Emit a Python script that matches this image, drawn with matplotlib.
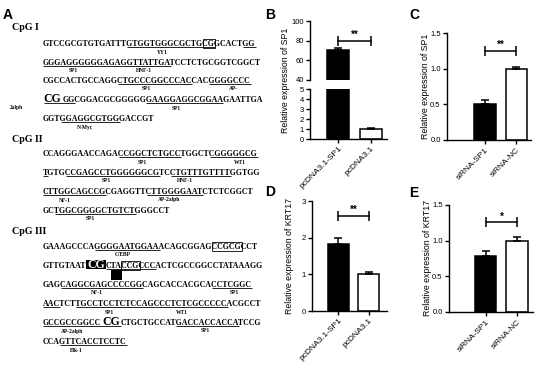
import re
import matplotlib
matplotlib.use("Agg")
import matplotlib.pyplot as plt
from matplotlib.font_manager import FontProperties
from matplotlib.patches import Rectangle

# ------------------------------------------------------------------ data
groups_over = ["pcDNA3.1-SP1", "pcDNA3.1"]
groups_si = ["siRNA-SP1", "siRNA-NC"]

sp1_over = [70.5, 1.0]
sp1_over_err = [2.0, 0.08]
sp1_si = [0.51, 1.0]
sp1_si_err = [0.05, 0.02]
krt17_over = [1.82, 1.0]
krt17_over_err = [0.18, 0.07]
krt17_si = [0.79, 1.0]
krt17_si_err = [0.07, 0.05]

sig_labels = ["**", "**", "**", "*"]
sig_heights = [80, 1.25, 2.6, 1.26]

ylabels = ["Relative expression of SP1", "Relative expression of SP1",
           "Relative expression of KRT17", "Relative expression of KRT17"]

# sequences: {XX} = enlarged CpG, [XX] = enlarged CpG on black
cpg_titles = ["CpG I", "CpG II", "CpG III"]

cpg1_seq = ["GTCCGCGTGTGATTTGTGGTGGGCGCTGCGGCACTGG",
            "GGGAGGGGGGAGAGGTTATTGATCCTCTGCGGTCGGCT",
            "CGCCACTGCCAGGCTGCCCGGCCCACCACGGGGCCC",
            "{CG}GGCGGACGCGGGGGGAAGGAGGCGGAAGAATTGA",
            "GGTGGAGGCGTGGGACCGT"]
cpg1_ul = [[(15, 30), (35, 37)], [(0, 13), (13, 22)], [(13, 26), (29, 36)],
           [(0, 4), (16, 29)], [(3, 13)]]
cpg1_box = [[(28, 30)], [], [], [], []]
cpg1_lab = [[("YY1", 21)], [("SP1", 5), ("HNF-1", 17)], [("SP1", 18), ("AP-", 33)],
            [("2alph", -4.5), ("SP1", 21)], [("N-Myc", 7)]]

cpg2_seq = ["CCAGGGAACCAGACCGGCTCTGCCTGGCTCGGGGGCG",
            "TGTGCCGAGCCTGGGGGGCGTCCTGTTTGTTTTGGTGG",
            "CTTGGCAGCCGCGAGGTTCTTGGGGAATCTCTCGGCT",
            "GCTGGCGGGGCTGTCTGGGCCT"]
cpg2_ul = [[(13, 24), (29, 37)], [(0, 1), (4, 20), (22, 33)], [(0, 11), (18, 28)], [(2, 16)]]
cpg2_box = [[], [], [], []]
cpg2_lab = [[("SP1", 17), ("WT1", 34)], [("SP1", 11), ("HNF-1", 24.5)],
            [("NF-1", 4), ("AP-2alph", 22)], [("SP1", 8)]]

cpg3_seq = ["GAAAGCCCAGGGGAATGGAAACAGCGGAGCCGCGCCT",
            "GTTGTAAT[CG]CTACCGCCCACTCGCCGGCCTATAAAGG",
            "GAGCAGGCGAGCCCCGGCAGCACCACGCACCTCGGC",
            "AACTCTTGCCTCCTCTCCAGCCCTCTCGCCCCCACGCCT",
            "GCCGCCGGCC{CG}CTGCTGCCATGACCACCACCATCCG",
            "CCAGTTCACCTCCTC"]
cpg3_ul = [[(9, 20)], [(10, 19)], [(3, 17), (29, 36)], [(0, 3), (6, 20), (20, 33)],
           [(0, 12), (22, 33)], [(3, 15)]]
cpg3_box = [[(29, 34)], [(13, 16)], [], [], [], []]
cpg3_lab = [[("C/EBP", 13.6)], [], [("NF-1", 9), ("SP1", 33)], [("SP1", 12), ("WT1", 25)],
            [("AP-2alph", 5), ("SP1", 27)], [("Elk-1", 6)]]

# ------------------------------------------------------------------ figure
W, H = 550, 366
fig = plt.figure(figsize=(5.5, 3.66), dpi=100)
SANS = "Liberation Sans"
SERIF = "Liberation Serif"

ax0 = fig.add_axes([0, 0, 1, 1])
ax0.set_xlim(0, W)
ax0.set_ylim(H, 0)
ax0.axis("off")

renderer = fig.canvas.get_renderer()
fp_seq = FontProperties(family=SERIF, weight="bold", size=5.7)
fp_big = FontProperties(family=SERIF, weight="bold", size=8.5)
fp_lab = FontProperties(family=SERIF, weight="bold", size=4.0)
fp_head = FontProperties(family=SERIF, weight="bold", size=7.2)


def tw(s, fp):
    if not s:
        return 0.0
    w, h, d = renderer.get_text_width_height_descent(s, fp, ismath=False)
    return w


def parse(line):
    segs = []
    for m in re.finditer(r"\{(\w+)\}|\[(\w+)\]|([A-Z]+)", line):
        if m.group(1):
            segs.append((m.group(1), "big"))
        elif m.group(2):
            segs.append((m.group(2), "inv"))
        else:
            segs.append((m.group(3), "n"))
    return segs


def draw_line(x0, yb, line):
    xs = []
    x = x0
    for s, kind in parse(line):
        fp = fp_seq if kind == "n" else fp_big
        gap = 0.8 if kind != "n" else 0.0
        x += gap
        color = "black"
        if kind == "inv":
            wseg = tw(s, fp)
            ax0.add_patch(Rectangle((x - 1, yb - 8), wseg + 2, 9.5, color="black", lw=0))
            color = "white"
        ax0.text(x, yb, s, fontproperties=fp, color=color, va="baseline", ha="left")
        for i in range(len(s)):
            xs.append(x + tw(s[:i], fp))
        x += tw(s, fp) + gap
    xs.append(x)
    return xs


def xpos(xs, idx):
    n = len(xs) - 1
    pitch = (xs[-1] - xs[0]) / n
    if idx < 0:
        return xs[0] + idx * pitch
    if idx >= n:
        return xs[-1] + (idx - n) * pitch
    i = int(idx)
    return xs[i] + (idx - i) * (xs[i + 1] - xs[i])


def draw_block(title, title_y, seqs, uls, boxes, labs, y_lines, x0=43):
    ax0.text(12, title_y, title, fontproperties=fp_head, va="center", ha="left")
    all_xs = []
    for seq, ul, bx, lb, yc in zip(seqs, uls, boxes, labs, y_lines):
        yb = yc + 2.6
        xs = draw_line(x0, yb, seq)
        all_xs.append(xs)
        for a, b in ul:
            ax0.plot([xs[a], xs[b]], [yb + 1.6, yb + 1.6], color="black", lw=0.6,
                     solid_capstyle="butt")
        for a, b in bx:
            ax0.add_patch(Rectangle((xs[a] - 0.6, yb - 6.6), xs[b] - xs[a] + 1.2, 8.6,
                                    fill=False, lw=0.6, edgecolor="black"))
        for t, idx in lb:
            ax0.text(xpos(xs, idx), yc + 9, t, fontproperties=fp_lab, ha="center",
                     va="center")
    return all_xs


draw_block(cpg_titles[0], 28, cpg1_seq, cpg1_ul, cpg1_box, cpg1_lab,
           [43, 62, 80, 99, 118])
draw_block(cpg_titles[1], 139, cpg2_seq, cpg2_ul, cpg2_box, cpg2_lab,
           [153, 172, 191, 210])
xs3 = draw_block(cpg_titles[2], 232, cpg3_seq, cpg3_ul, cpg3_box, cpg3_lab,
                 [246, 265, 284, 303, 322, 341])
# black marker under the C/EBP site
xl = xs3[1]
ax0.add_patch(Rectangle((xl[11], 265 + 5), xl[13] - xl[11], 10, color="black", lw=0))

# panel letters
for letter, (px, py) in zip("ABCDE", [(8, 15), (270, 15), (414, 15), (270, 192), (414, 193)]):
    fig.text(px / W, 1 - py / H, letter, fontsize=10, fontweight="bold", family=SANS,
             ha="center", va="center")


# ------------------------------------------------------------------ bar panels
def add_ax(x0, y0, x1, y1):
    return fig.add_axes([x0 / W, 1 - y1 / H, (x1 - x0) / W, (y1 - y0) / H])


def style(ax, show_bottom=True):
    for s in ["top", "right"]:
        ax.spines[s].set_visible(False)
    ax.spines["left"].set_linewidth(1.0)
    ax.spines["bottom"].set_linewidth(1.0)
    if not show_bottom:
        ax.spines["bottom"].set_visible(False)
    ax.tick_params(axis="y", direction="out", length=3, width=1.0, labelsize=5.5, pad=1.5)
    ax.tick_params(axis="x", direction="out", length=3, width=1.0, labelsize=6, pad=1.5)
    for lab in ax.get_yticklabels():
        lab.set_family(SANS)
    ax.patch.set_alpha(0)


def bars(ax, vals, errs):
    ax.bar([0, 1], vals, width=0.68, color=["black", "white"], edgecolor="black",
           linewidth=1.1, zorder=2)
    ax.errorbar([0, 1], vals, yerr=[[0, 0], errs], fmt="none", ecolor="black",
                elinewidth=1.1, capsize=3, capthick=1.1, zorder=3)


def xlabels(ax, labels):
    ax.set_xticks([0, 1])
    ax.set_xticklabels(labels, rotation=45, ha="right", rotation_mode="anchor",
                       family=SANS, fontsize=6)


def sig(ax, y, text):
    ax.plot([0, 1], [y, y], color="black", lw=1.1, marker="|", ms=7, mew=1.1,
            clip_on=False, zorder=4)
    ax.annotate(text, xy=(0.5, y), xytext=(0, 0.5), textcoords="offset points",
                ha="center", va="bottom", fontsize=7, fontweight="bold", family=SANS)


def ylab(px, py, text):
    fig.text(px / W, 1 - py / H, text, rotation=90, fontsize=6.3, family=SANS,
             ha="center", va="center")


# B: broken axis
axBu = add_ax(310, 21, 387, 80)
axBl = add_ax(310, 89, 387, 139)
for a in (axBu, axBl):
    bars(a, sp1_over, sp1_over_err)
    a.set_xlim(-0.88, 1.5)
axBu.set_ylim(40, 100)
axBu.set_yticks([40, 60, 80, 100])
axBu.set_xticks([])
style(axBu, show_bottom=False)
axBl.set_ylim(0, 5)
axBl.set_yticks([0, 1, 2, 3, 4, 5])
xlabels(axBl, groups_over)
style(axBl)
sig(axBu, sig_heights[0], sig_labels[0])
ylab(286, 80, ylabels[0])

# C
axC = add_ax(447, 33, 531, 140)
bars(axC, sp1_si, sp1_si_err)
axC.set_xlim(-1.2, 1.46)
axC.set_ylim(0, 1.5)
axC.set_yticks([0, 0.5, 1.0, 1.5])
axC.set_yticklabels(["0.0", "0.5", "1.0", "1.5"])
xlabels(axC, groups_si)
style(axC)
sig(axC, sig_heights[1], sig_labels[1])
ylab(425, 86, ylabels[1])

# D
axD = add_ax(312, 201, 387, 311)
bars(axD, krt17_over, krt17_over_err)
axD.set_xlim(-0.87, 1.6)
axD.set_ylim(0, 3)
axD.set_yticks([0, 1, 2, 3])
xlabels(axD, groups_over)
style(axD)
sig(axD, sig_heights[2], sig_labels[2])
ylab(290, 256, ylabels[2])

# E
axE = add_ax(449, 205, 533, 312)
bars(axE, krt17_si, krt17_si_err)
axE.set_xlim(-1.16, 1.5)
axE.set_ylim(0, 1.5)
axE.set_yticks([0, 0.5, 1.0, 1.5])
axE.set_yticklabels(["0.0", "0.5", "1.0", "1.5"])
xlabels(axE, groups_si)
style(axE)
sig(axE, sig_heights[3], sig_labels[3])
ylab(427, 258, ylabels[3])

fig.savefig("out.png", dpi=100)
